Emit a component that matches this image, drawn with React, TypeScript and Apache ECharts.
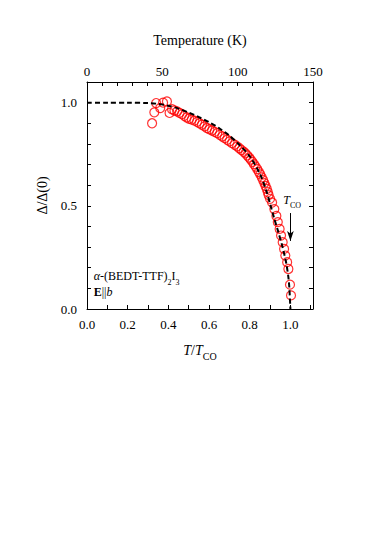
import React, { useEffect, useRef } from "react";
import * as echarts from "echarts";

// Red open circles: measured Δ/Δ(0) vs T/T_CO
const dataX = [
  0.320, 0.331, 0.340, 0.360, 0.374, 0.393, 0.406, 0.418,
  0.430, 0.443, 0.455, 0.467, 0.478, 0.490, 0.502, 0.515, 0.528, 0.541,
  0.553, 0.565, 0.578, 0.590, 0.602, 0.615, 0.628, 0.640, 0.652, 0.665,
  0.677, 0.689, 0.701, 0.713, 0.726, 0.738, 0.749, 0.760, 0.770, 0.779,
  0.788, 0.797, 0.805, 0.813, 0.821, 0.829, 0.837, 0.845, 0.852, 0.859,
  0.866, 0.872, 0.878, 0.884, 0.889, 0.893, 0.900, 0.910, 0.921, 0.931,
  0.938, 0.947, 0.954, 0.962, 0.969, 0.975, 0.984, 0.990, 0.998, 1.003,
];
const dataY = [
  0.900, 0.953, 0.998, 0.974, 1.000, 1.006, 0.950, 0.968,
  0.962, 0.958, 0.950, 0.944, 0.936, 0.928, 0.922, 0.918, 0.913, 0.907,
  0.900, 0.893, 0.885, 0.877, 0.871, 0.865, 0.858, 0.852, 0.844, 0.836,
  0.828, 0.820, 0.812, 0.804, 0.796, 0.788, 0.779, 0.770, 0.762, 0.754,
  0.744, 0.734, 0.724, 0.713, 0.702, 0.690, 0.678, 0.664, 0.652, 0.638,
  0.624, 0.610, 0.596, 0.582, 0.566, 0.552, 0.534, 0.516, 0.484, 0.451,
  0.421, 0.388, 0.356, 0.324, 0.291, 0.259, 0.227, 0.194, 0.118, 0.066,
];

// Black dashed theoretical curve
const curveX = [
  0, 0.1, 0.2, 0.3, 0.35, 0.4, 0.45, 0.5, 0.55, 0.6, 0.65, 0.7, 0.75, 0.8,
  0.85, 0.88, 0.9, 0.92, 0.94, 0.96, 0.97, 0.98, 0.99, 0.995, 1.0,
];
const curveY = [
  1.0, 1.0, 1.0, 0.998, 0.994, 0.985, 0.971, 0.952, 0.93, 0.905, 0.876, 0.84,
  0.795, 0.74, 0.655, 0.578, 0.51, 0.44, 0.375, 0.305, 0.265, 0.22, 0.155,
  0.1, 0.0,
];

const bottomTicks = ["0.0", "0.2", "0.4", "0.6", "0.8", "1.0"];
const topTicks = ["0", "50", "100", "150"];
const leftTicks = ["0.0", "0.5", "1.0"];

const FONT = "'Liberation Serif', 'Times New Roman', serif";

export default function App() {
  const ref = useRef<HTMLDivElement>(null);
  useEffect(() => {
    if (!ref.current) return;
    const chart = echarts.init(ref.current, undefined, { renderer: "svg" });
    const axisCommon = {
      axisLine: { show: true, onZero: false, lineStyle: { color: "#000", width: 1 } },
      axisTick: { show: true, inside: true, length: 4, lineStyle: { color: "#000", width: 1 } },
      splitLine: { show: false },
      axisLabel: { color: "#000", fontFamily: FONT, fontSize: 13 },
      nameTextStyle: { color: "#000", fontFamily: FONT, fontSize: 14 },
    };
    const fmt = (list: string[]) => (v: number) => {
      const s = list.find((t) => Math.abs(parseFloat(t) - v) < 1e-6);
      return s ?? "";
    };
    chart.setOption({
      animation: false,
      backgroundColor: "#fff",
      textStyle: { fontFamily: FONT },
      grid: { left: 87, right: 61, top: 82, bottom: 226, containLabel: false },
      xAxis: [
        {
          ...axisCommon,
          type: "value",
          position: "bottom",
          min: 0,
          max: 150 / 135,
          interval: 0.1,
          axisLabel: { ...axisCommon.axisLabel, margin: 9, formatter: fmt(bottomTicks), showMaxLabel: false },
          name: "{i|T}{n|/}{i|T}{s|CO}",
          nameLocation: "middle",
          nameGap: 34,
          nameTextStyle: {
            ...axisCommon.nameTextStyle,
            rich: {
              n: { fontFamily: FONT, fontSize: 14, lineHeight: 18, color: "#000", verticalAlign: "top" },
              i: { fontStyle: "italic", fontFamily: FONT, fontSize: 14, lineHeight: 18, color: "#000", verticalAlign: "top" },
              s: { fontFamily: FONT, fontSize: 10, lineHeight: 10, verticalAlign: "bottom", color: "#000" },
            },
          },
        },
        {
          ...axisCommon,
          type: "value",
          position: "top",
          min: 0,
          max: 150,
          interval: 10,
          axisLabel: { ...axisCommon.axisLabel, margin: 4, formatter: fmt(topTicks) },
          name: "Temperature (K)",
          nameLocation: "middle",
          nameGap: 35,
        },
      ],
      yAxis: [
        {
          ...axisCommon,
          type: "value",
          position: "left",
          min: 0,
          max: 1.1,
          interval: 0.1,
          axisLabel: { ...axisCommon.axisLabel, margin: 10, formatter: fmt(leftTicks) },
          name: "Δ/Δ(0)",
          nameLocation: "middle",
          nameGap: 27,
        },
        {
          ...axisCommon,
          type: "value",
          position: "right",
          min: 0,
          max: 1.1,
          interval: 0.1,
          axisLabel: { show: false },
        },
      ],
      series: [
        {
          type: "line",
          xAxisIndex: 0,
          yAxisIndex: 0,
          data: curveX.map((x, i) => [x, curveY[i]]),
          smooth: 0.3,
          symbol: "none",
          lineStyle: { color: "#000", width: 2, type: [5, 3] },
          z: 3,
          markLine: {
            silent: true,
            symbol: ["none", "arrow"],
            symbolSize: [5, 10],
            label: { show: false },
            lineStyle: { color: "#000", width: 1, type: "solid" },
            data: [[{ coord: [1.0, 0.465] }, { coord: [1.0, 0.33] }]],
          },
        },
        {
          type: "scatter",
          xAxisIndex: 0,
          yAxisIndex: 0,
          data: dataX.map((x, i) => [x, dataY[i]]),
          symbol: "circle",
          symbolSize: 9,
          itemStyle: { color: "rgba(0,0,0,0)", borderColor: "#ff0000", borderWidth: 1.2 },
          z: 2,
        },
      ],
    });

    const p = chart.convertToPixel({ xAxisIndex: 0, yAxisIndex: 0 }, [0.965, 0.52]) as number[];
    const q = chart.convertToPixel({ xAxisIndex: 0, yAxisIndex: 0 }, [0.033, 0.0]) as number[];
    const subRich = {
      n: { fontFamily: FONT, fontSize: 12, lineHeight: 16, color: "#000", verticalAlign: "top" },
      i: { fontFamily: FONT, fontStyle: "italic", fontSize: 12, lineHeight: 16, color: "#000", verticalAlign: "top" },
      b: { fontFamily: FONT, fontWeight: "bold", fontSize: 12, lineHeight: 16, color: "#000", verticalAlign: "top" },
      s: { fontFamily: FONT, fontSize: 8, lineHeight: 9, verticalAlign: "bottom", color: "#000" },
    };
    chart.setOption({
      graphic: [
        {
          type: "text",
          x: p[0],
          y: p[1],
          style: {
            text: "{i|T}{s|CO}",
            rich: subRich,
            textVerticalAlign: "middle",
          },
        },
        {
          type: "text",
          x: q[0],
          y: q[1] - 31,
          style: {
            text: "{i|α}{n|-(BEDT-TTF)}{s|2}{n|I}{s|3}",
            rich: subRich,
            textVerticalAlign: "middle",
          },
        },
        {
          type: "text",
          x: q[0],
          y: q[1] - 15,
          style: {
            text: "{b|E}{n|||}{i|b}",
            rich: subRich,
            textVerticalAlign: "middle",
          },
        },
      ],
    });
    return () => chart.dispose();
  }, []);
  return (
    <div
      ref={ref}
      style={{ position: "fixed", left: 0, top: 0, width: 374, height: 535, background: "#fff" }}
    />
  );
}
